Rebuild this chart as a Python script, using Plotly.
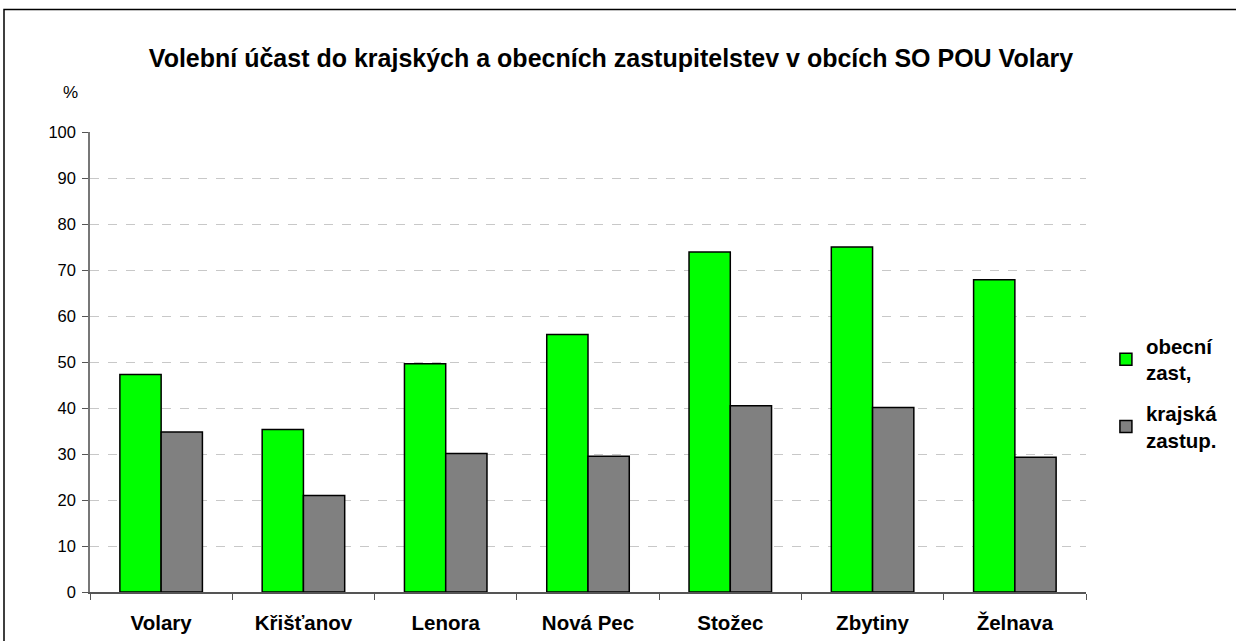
import plotly.graph_objects as go

categories = ["Volary", "Křišťanov", "Lenora", "Nová Pec", "Stožec", "Zbytiny", "Želnava"]
obecni = [47.3, 35.3, 49.6, 56.0, 73.9, 75.0, 67.9]
krajska = [34.8, 21.0, 30.1, 29.5, 40.5, 40.1, 29.3]
series_names = ["obecní<br>zast,", "krajská<br>zastup."]

FONT = "Liberation Sans, Arial, sans-serif"

fig = go.Figure()
fig.add_trace(go.Bar(x=categories, y=obecni, name="<b>" + series_names[0] + "</b>",
                     legendgroup="a",
                     marker=dict(color="#00FF00", line=dict(color="black", width=1.5))))
fig.add_trace(go.Bar(x=categories, y=krajska, name="<b>" + series_names[1] + "</b>",
                     legendgroup="b",
                     marker=dict(color="#808080", line=dict(color="black", width=1.5))))

L, T, R, B = 90, 132, 1086, 592
PW, PH = R - L, B - T

fig.update_layout(
    width=1236, height=641,
    paper_bgcolor="white", plot_bgcolor="white",
    margin=dict(l=L, r=1236 - R, t=T, b=641 - B),
    barmode="group", bargap=0.42, bargroupgap=0,
    font=dict(family=FONT, color="black"),
    title=dict(text="<b>Volební účast do krajských a obecních zastupitelstev v obcích SO POU Volary</b>",
               x=611 / 1236, xanchor="center", y=1 - 58 / 641, yanchor="middle",
               font=dict(size=25, family=FONT, color="black")),
    showlegend=True,
    legend=dict(x=1.02, xanchor="left", y=(B - 326) / PH, yanchor="top",
                font=dict(size=20.5, family=FONT, color="black"),
                traceorder="grouped", tracegroupgap=11, bgcolor="rgba(0,0,0,0)"),
    xaxis=dict(showline=True, linecolor="#555555", linewidth=1.5,
               ticks="outside", tickson="boundaries", ticklen=6, tickcolor="#555555",
               tickfont=dict(size=20.5, family=FONT, color="black"),
               ticklabelstandoff=12, automargin=False,
               tickprefix="<b>", ticksuffix="</b>", showgrid=False, fixedrange=True),
    yaxis=dict(range=[0, 100], dtick=10, showline=True, linecolor="#777777", linewidth=1.5,
               ticks="outside", ticklen=6, tickcolor="#555555",
               tickfont=dict(size=16.5, family=FONT, color="black"),
               ticklabelstandoff=3, automargin=False,
               showgrid=True, gridcolor="#C8C8C8", griddash="dash", gridwidth=1,
               zeroline=False),
    annotations=[dict(text="%", xref="paper", yref="paper", x=(70 - L) / PW, y=(B - 93) / PH,
                      showarrow=False, font=dict(size=17, color="black", family=FONT),
                      xanchor="center", yanchor="middle")],
    shapes=[dict(type="rect", xref="paper", yref="paper",
                 x0=(4 - L) / PW, x1=(1245 - L) / PW,
                 y0=(B - 650) / PH, y1=(B - 9.5) / PH,
                 line=dict(color="black", width=1.5), layer="below")],
)

fig.write_html("out.html", config={"displayModeBar": False},
               post_script="document.body.style.margin='0px';")
